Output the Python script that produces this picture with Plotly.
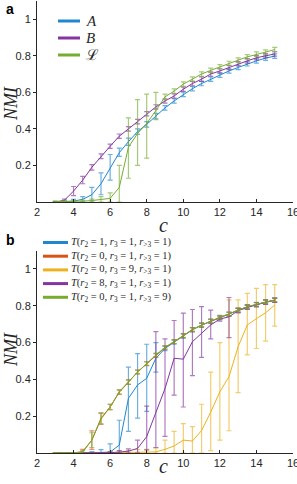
import plotly.graph_objects as go

# ---------------- data ----------------
c_vals = [3, 3.5, 4, 4.5, 5, 5.5, 6, 6.5, 7, 7.5, 8, 8.5, 9, 9.5, 10,
          10.5, 11, 11.5, 12, 12.5, 13, 13.5, 14, 14.5, 15]

# panel a
a_blue = [0.0, 0.002, 0.005, 0.015, 0.04, 0.10, 0.185, 0.27, 0.33, 0.385, 0.425, 0.47, 0.515,
          0.553, 0.589, 0.62, 0.648, 0.672, 0.694, 0.717, 0.736, 0.756, 0.772, 0.787, 0.798]
a_blue_up = [0.002, 0.004, 0.01, 0.015, 0.04, 0.06, 0.075, 0.025, 0.02, 0.015, 0.015, 0.015, 0.012,
             0.012, 0.012, 0.012, 0.012, 0.012, 0.012, 0.012, 0.012, 0.012, 0.012, 0.012, 0.012]
a_blue_dn = [0.0, 0.002, 0.005, 0.015, 0.04, 0.06, 0.065, 0.02, 0.02, 0.015, 0.015, 0.015, 0.012,
             0.012, 0.012, 0.012, 0.012, 0.012, 0.012, 0.012, 0.012, 0.012, 0.012, 0.012, 0.012]

a_purple = [0.0, 0.01, 0.06, 0.12, 0.19, 0.25, 0.305, 0.36, 0.40, 0.44, 0.483, 0.52, 0.553,
            0.58, 0.617, 0.648, 0.672, 0.70, 0.717, 0.736, 0.756, 0.772, 0.789, 0.80, 0.81]
a_purple_err = [0.002, 0.006, 0.025, 0.02, 0.015, 0.013, 0.012, 0.012, 0.012, 0.012, 0.012, 0.012, 0.012,
                0.012, 0.012, 0.012, 0.012, 0.012, 0.012, 0.012, 0.012, 0.012, 0.012, 0.012, 0.012]

a_green = [0.003, 0.003, 0.003, 0.005, 0.008, 0.012, 0.02, 0.08, 0.30, 0.375, 0.43, 0.50, 0.575,
           0.607, 0.645, 0.672, 0.70, 0.72, 0.74, 0.758, 0.776, 0.794, 0.809, 0.82, 0.834]
a_green_up = [0.003, 0.003, 0.003, 0.005, 0.008, 0.018, 0.03, 0.12, 0.16, 0.185, 0.16, 0.10, 0.015,
              0.012, 0.012, 0.012, 0.012, 0.012, 0.012, 0.012, 0.012, 0.012, 0.012, 0.012, 0.012]
a_green_dn = [0.003, 0.003, 0.003, 0.005, 0.008, 0.012, 0.02, 0.08, 0.17, 0.175, 0.19, 0.05, 0.015,
              0.012, 0.012, 0.012, 0.012, 0.012, 0.012, 0.012, 0.012, 0.012, 0.012, 0.012, 0.012]

# panel b
b_blue = [0.0, 0.0, 0.0, 0.0, 0.002, 0.003, 0.005, 0.043, 0.297, 0.37, 0.406, 0.515, 0.568,
          0.603, 0.636, 0.67, 0.695, 0.716, 0.736, 0.754, 0.776, 0.794, 0.807, 0.821, 0.831]
b_blue_up = [0.0, 0.0, 0.0, 0.0, 0.005, 0.015, 0.045, 0.135, 0.17, 0.17, 0.185, 0.085, 0.012,
             0.012, 0.012, 0.012, 0.012, 0.012, 0.012, 0.012, 0.012, 0.012, 0.012, 0.012, 0.012]
b_blue_dn = [0.0, 0.0, 0.0, 0.0, 0.002, 0.003, 0.005, 0.043, 0.18, 0.18, 0.18, 0.075, 0.012,
             0.012, 0.012, 0.012, 0.012, 0.012, 0.012, 0.012, 0.012, 0.012, 0.012, 0.012, 0.012]

b_orange = [0.0, 0.0, 0.0, 0.008, 0.07, 0.185, 0.25, 0.33, 0.385, 0.44, 0.485, 0.53, 0.573,
            0.605, 0.637, 0.67, 0.695, 0.716, 0.736, 0.755, 0.776, 0.794, 0.807, 0.821, 0.831]
b_orange_err = [0.002, 0.002, 0.002, 0.012, 0.05, 0.03, 0.015, 0.012, 0.012, 0.01, 0.01, 0.01, 0.01,
                0.01, 0.01, 0.01, 0.01, 0.01, 0.01, 0.01, 0.01, 0.01, 0.01, 0.01, 0.01]

b_yellow = [0.0, 0.0, 0.0, 0.0, 0.0, 0.0, 0.002, 0.003, 0.003, 0.004, 0.005, 0.006, 0.02,
            0.038, 0.07, 0.065, 0.122, 0.222, 0.333, 0.415, 0.578, 0.696, 0.73, 0.762, 0.804]
b_yellow_up = [0.0, 0.0, 0.0, 0.0, 0.0, 0.0, 0.005, 0.008, 0.01, 0.015, 0.015, 0.02, 0.05,
               0.08, 0.09, 0.078, 0.143, 0.218, 0.267, 0.417, 0.254, 0.172, 0.165, 0.153, 0.111]
b_yellow_dn = [0.0, 0.0, 0.0, 0.0, 0.0, 0.0, 0.002, 0.003, 0.003, 0.004, 0.005, 0.006, 0.02,
               0.038, 0.07, 0.065, 0.122, 0.209, 0.263, 0.294, 0.25, 0.163, 0.162, 0.154, 0.114]

b_purple = [0.0, 0.0, 0.0, 0.0, 0.0, 0.0, 0.002, 0.005, 0.01, 0.025, 0.089, 0.22, 0.35,
            0.515, 0.51, 0.605, 0.65, 0.696, 0.728, 0.74, 0.774, 0.792, 0.806, 0.82, 0.83]
b_purple_up = [0.0, 0.0, 0.0, 0.0, 0.0, 0.0, 0.004, 0.008, 0.012, 0.045, 0.166, 0.44, 0.27,
               0.205, 0.25, 0.175, 0.145, 0.081, 0.012, 0.105, 0.012, 0.012, 0.012, 0.012, 0.012]
b_purple_dn = [0.0, 0.0, 0.0, 0.0, 0.0, 0.0, 0.002, 0.005, 0.01, 0.025, 0.072, 0.19, 0.26,
               0.2, 0.26, 0.185, 0.13, 0.076, 0.012, 0.113, 0.012, 0.012, 0.012, 0.012, 0.012]

b_green = [0.0, 0.0, 0.0, 0.005, 0.07, 0.19, 0.25, 0.333, 0.385, 0.44, 0.486, 0.533, 0.574,
           0.605, 0.638, 0.672, 0.696, 0.717, 0.737, 0.755, 0.777, 0.795, 0.808, 0.822, 0.832]
b_green_err = [0.002, 0.002, 0.002, 0.008, 0.04, 0.03, 0.015, 0.012, 0.012, 0.01, 0.01, 0.01, 0.01,
               0.01, 0.01, 0.01, 0.01, 0.01, 0.01, 0.01, 0.01, 0.01, 0.01, 0.01, 0.01]

x_ticks = [2, 4, 6, 8, 10, 12, 14, 16]
x_ticktext = ["2", "4", "6", "8", "10", "12", "14", "16"]
y_ticks = [0.2, 0.4, 0.6, 0.8, 1.0]
y_ticktext = ["0.2", "0.4", "0.6", "0.8", "1"]

a_names = ["<i>A</i>", "<i>B</i>", "ℒ"]
b_names = [
    "<i>T</i>(<i>r</i><sub>2</sub> = 1, <i>r</i><sub>3</sub> = 1, <i>r</i><sub>&gt;3</sub> = 1)",
    "<i>T</i>(<i>r</i><sub>2</sub> = 0, <i>r</i><sub>3</sub> = 1, <i>r</i><sub>&gt;3</sub> = 1)",
    "<i>T</i>(<i>r</i><sub>2</sub> = 0, <i>r</i><sub>3</sub> = 9, <i>r</i><sub>&gt;3</sub> = 1)",
    "<i>T</i>(<i>r</i><sub>2</sub> = 8, <i>r</i><sub>3</sub> = 1, <i>r</i><sub>&gt;3</sub> = 1)",
    "<i>T</i>(<i>r</i><sub>2</sub> = 0, <i>r</i><sub>3</sub> = 1, <i>r</i><sub>&gt;3</sub> = 9)",
]

# ---------------- styling ----------------
BLUE = "#1f86cf"
ORANGE = "#D95319"
YELLOW = "#EDB120"
PURPLE = "#8435a0"
GREEN = "#77AC30"
AX = "#262626"
SERIF = "Liberation Serif, Times New Roman, serif"
SANS = "Liberation Sans, Arial, sans-serif"


def rgba(hexc, a):
    h = hexc.lstrip("#")
    return "rgba(%d,%d,%d,%.2f)" % (int(h[0:2], 16), int(h[2:4], 16), int(h[4:6], 16), a)


fig = go.Figure()


def add_series(y, up, dn, color, xa, ya):
    fig.add_trace(go.Scatter(
        x=c_vals, y=y, mode="lines", xaxis=xa, yaxis=ya,
        line=dict(color=color, width=1), showlegend=False,
        error_y=dict(type="data", array=up, arrayminus=dn, symmetric=False,
                     color=rgba(color, 0.65), thickness=1.2, width=2.5),
    ))


# panel a
add_series(a_blue, a_blue_up, a_blue_dn, BLUE, "x", "y")
add_series(a_purple, a_purple_err, a_purple_err, PURPLE, "x", "y")
add_series(a_green, a_green_up, a_green_dn, GREEN, "x", "y")

# panel b
add_series(b_blue, b_blue_up, b_blue_dn, BLUE, "x2", "y2")
add_series(b_orange, b_orange_err, b_orange_err, ORANGE, "x2", "y2")
add_series(b_yellow, b_yellow_up, b_yellow_dn, YELLOW, "x2", "y2")
add_series(b_purple, b_purple_up, b_purple_dn, PURPLE, "x2", "y2")
add_series(b_green, b_green_err, b_green_err, GREEN, "x2", "y2")

TICKFONT = dict(family=SANS, size=11, color=AX)

xcommon = dict(range=[2, 16], tickvals=x_ticks, ticktext=x_ticktext, showline=True,
               linecolor=AX, linewidth=1, tickmode="array",
               ticks="inside", ticklen=3, tickcolor=AX, showgrid=False, zeroline=False,
               tickfont=TICKFONT, mirror=False, automargin=False, ticklabeloverflow="allow")
ycommon = dict(range=[0, 1.1], tickvals=y_ticks, ticktext=y_ticktext, showline=True,
               linecolor=AX, linewidth=1, ticks="outside", ticklen=3, tickcolor=AX,
               showgrid=False, zeroline=False, tickfont=TICKFONT, mirror=False, automargin=False)

L, R, T, B = 37, 4, 0, 31
W, H = 297, 484
plot_h = H - T - B
plot_w = W - L - R


def px_to_paper(xp, yp):
    return (xp - L) / plot_w, (plot_h - (yp - T)) / plot_h


ann = []
shapes = []
for txt, xp, yp, size, fam, ang in [
    ("<b>a</b>", 10, 9, 14, SANS, 0),
    ("<b>b</b>", 10, 240, 14, SANS, 0),
    ("<i>NMI</i>", 11, 104, 18, SERIF, -90),
    ("<i>NMI</i>", 11, 350, 18, SERIF, -90),
    ("<i>c</i>", 163, 225, 20, SERIF, 0),
    ("<i>c</i>", 163, 466, 20, SERIF, 0),
]:
    px, py = px_to_paper(xp, yp)
    ann.append(dict(text=txt, x=px, y=py, xref="paper", yref="paper", showarrow=False,
                    xanchor="center", yanchor="middle", textangle=ang,
                    font=dict(family=fam, size=size, color="black" if "<b>" in txt else AX)))

# legend a (manual)
for i, (name, col) in enumerate(zip(a_names, [BLUE, PURPLE, GREEN])):
    yp = 21 + i * 17
    x0, y0 = px_to_paper(58, yp)
    x1, _ = px_to_paper(80, yp)
    shapes.append(dict(type="line", xref="paper", yref="paper", x0=x0, x1=x1, y0=y0, y1=y0,
                       line=dict(color=col, width=3)))
    tx, ty = px_to_paper(84, yp)
    ann.append(dict(text=name, x=tx, y=ty, xref="paper", yref="paper", showarrow=False,
                    xanchor="left", yanchor="middle",
                    font=dict(family=SERIF, size=15, color=AX)))

# legend b (manual)
for i, (name, col) in enumerate(zip(b_names, [BLUE, ORANGE, YELLOW, PURPLE, GREEN])):
    yp = 242.5 + i * 13.7
    x0, y0 = px_to_paper(43, yp)
    x1, _ = px_to_paper(68, yp)
    shapes.append(dict(type="line", xref="paper", yref="paper", x0=x0, x1=x1, y0=y0, y1=y0,
                       line=dict(color=col, width=3)))
    tx, ty = px_to_paper(69, yp)
    ann.append(dict(text=name, x=tx, y=ty, xref="paper", yref="paper", showarrow=False,
                    xanchor="left", yanchor="middle",
                    font=dict(family=SERIF, size=10.5, color=AX)))

fig.update_layout(
    width=W, height=H,
    margin=dict(l=L, r=R, t=T, b=B),
    showlegend=False,
    plot_bgcolor="white", paper_bgcolor="white",
    xaxis=dict(domain=[0, 1], anchor="y", **xcommon),
    yaxis=dict(domain=[0.554, 0.998], anchor="x", **ycommon),
    xaxis2=dict(domain=[0, 1], anchor="y2", **xcommon),
    yaxis2=dict(domain=[0, 0.4468], anchor="x2", **ycommon),
    annotations=ann,
    shapes=shapes,
)

# remove the browser's default page margin so the figure starts at the window's corner
fig.write_html(
    "out.html",
    config={"displayModeBar": False},
    post_script="document.body.style.margin='0';document.body.style.overflow='hidden';",
)
